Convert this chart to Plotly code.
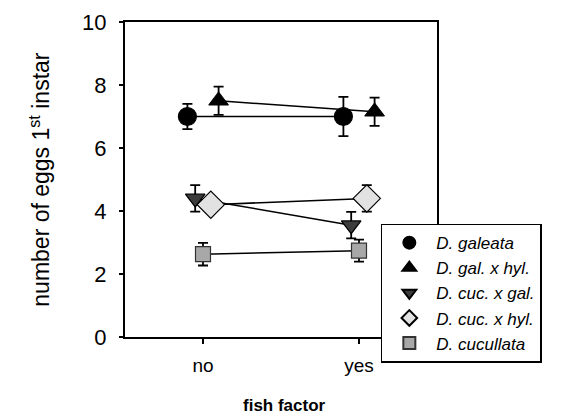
import plotly.graph_objects as go

categories = ["no", "yes"]
series_names = ["D. galeata", "D. gal. x hyl.", "D. cuc. x gal.", "D. cuc. x hyl.", "D. cucullata"]
galeata = [7.0, 7.0]
galeata_err = [0.4, 0.62]
gal_hyl = [7.5, 7.15]
gal_hyl_err = [0.45, 0.45]
cuc_gal = [4.4, 3.55]
cuc_gal_err = [0.42, 0.42]
cuc_hyl = [4.2, 4.4]
cuc_hyl_err = [0.25, 0.42]
cucullata = [2.63, 2.74]
cucullata_err = [0.36, 0.35]
y_ticks = [0, 2, 4, 6, 8, 10]
x_title = "<b>fish factor</b>"
y_title = "number of eggs 1<sup>st</sup> instar"

values = [galeata, gal_hyl, cuc_gal, cuc_hyl, cucullata]
errors = [galeata_err, gal_hyl_err, cuc_gal_err, cuc_hyl_err, cucullata_err]

# style: horizontal dodge per series, marker look
styles = [
    dict(dx=-0.1, symbol="circle", size=18, color="black", line="black"),
    dict(dx=0.1, symbol="triangle-up", size=17, color="black", line="black"),
    dict(dx=-0.05, symbol="triangle-down", size=17, color="#3c3c3c", line="black"),
    dict(dx=0.05, symbol="diamond", size=21, color="#e2e2e2", line="black"),
    dict(dx=0.0, symbol="square", size=15, color="#a8a8a8", line="#333333"),
]

fig = go.Figure()
base = list(range(len(categories)))
for name, vals, errs, st in zip(series_names, values, errors, styles):
    mk = dict(symbol=st["symbol"], size=st["size"], color=st["color"],
              line=dict(color=st["line"], width=1.2))
    fig.add_trace(go.Scatter(
        x=[b + st["dx"] for b in base], y=vals, name=name,
        mode="lines+markers", showlegend=False, legendgroup=name,
        line=dict(color="black", width=1.5),
        marker=mk,
        error_y=dict(type="data", array=errs, color="black", thickness=1.8, width=5),
    ))
    # legend entry: marker only
    fig.add_trace(go.Scatter(x=[None], y=[None], name=name, mode="markers",
                             legendgroup=name, marker=mk))

fig.update_layout(
    width=566, height=415,
    margin=dict(l=125, r=129, t=22, b=78),
    paper_bgcolor="white", plot_bgcolor="white",
    font=dict(family="Liberation Sans, Arial, sans-serif", color="black"),
    showlegend=True,
    legend=dict(x=0.82, y=0.36, xanchor="left", yanchor="top",
                bordercolor="black", borderwidth=1.5, bgcolor="white",
                font=dict(size=17, style="italic"),
                tracegroupgap=0, itemwidth=44, itemsizing="constant"),
    xaxis=dict(range=[-0.5, 1.5], tickvals=base, ticktext=categories,
               showgrid=False, zeroline=False, showline=True, linecolor="black",
               linewidth=2, mirror=True, ticks="outside", ticklen=5,
               tickcolor="black", tickwidth=2, ticklabelstandoff=5,
               tickfont=dict(size=19), automargin=False),
    yaxis=dict(range=[0, 10], tickvals=y_ticks, showgrid=False, zeroline=False,
               showline=True, linecolor="black", linewidth=2, mirror=True,
               ticks="outside", ticklen=4, tickcolor="black", tickwidth=1.5,
               ticklabelstandoff=8, automargin=False,
               tickfont=dict(size=22)),
    annotations=[
        dict(text=x_title, xref="paper", yref="paper", x=0.51, y=-0.219,
             xanchor="center", yanchor="middle", showarrow=False,
             font=dict(size=17)),
        dict(text=y_title, xref="paper", yref="paper", x=-0.275, y=0.5,
             xanchor="center", yanchor="middle", showarrow=False,
             textangle=-90, font=dict(size=23)),
    ],
)

fig.write_html("out.html")
